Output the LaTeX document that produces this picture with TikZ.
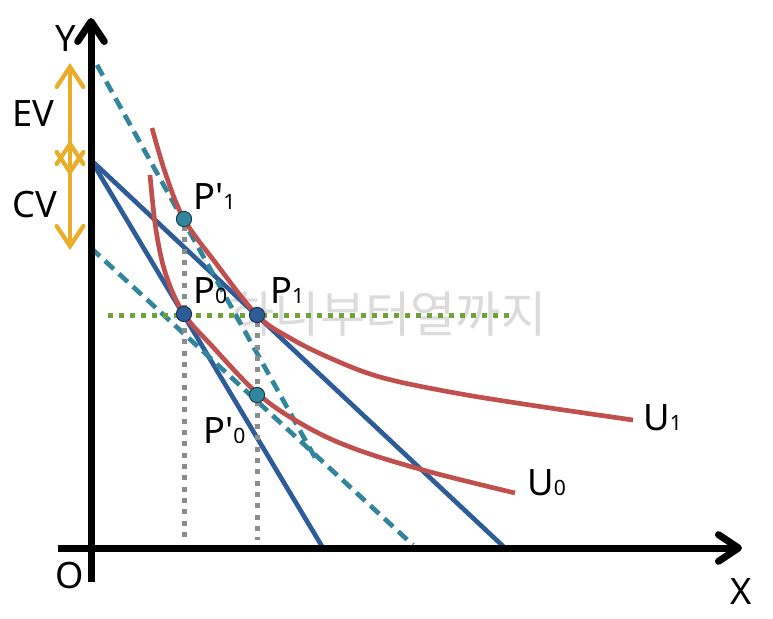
\documentclass[tikz,border=0pt]{standalone}
\usepackage{fontspec}
\setmainfont{Noto Sans}
\newfontfamily\kofont{Noto Sans CJK KR}
\usetikzlibrary{arrows.meta}
\definecolor{ured}{HTML}{C0504D}
\definecolor{bblue}{HTML}{2E5C99}
\definecolor{dteal}{HTML}{31859C}
\definecolor{hgreen}{HTML}{6FA33A}
\definecolor{vgray}{HTML}{8C8C8C}
\definecolor{aorange}{HTML}{E8AE2B}
\newcommand{\lowsub}[1]{{\fontsize{18}{18}\selectfont #1}}
\tikzset{
  axisline/.style={line width=2.1mm,-{Straight Barb[length=6mm,width=8mm,line cap=round,line join=round]}},
  budget/.style={bblue,line width=1.4mm},
  shifted/.style={dteal,line width=1.4mm,dash pattern=on 3.6mm off 2.1mm},
  indiff/.style={ured,line width=1.4mm},
  guide/.style={vgray,line width=1.5mm,dash pattern=on 1.5mm off 1.9mm},
  level/.style={hgreen,line width=1.5mm,dash pattern=on 1.5mm off 1.8mm},
  gap/.style={aorange,line width=1.3mm,{Straight Barb[length=6mm,width=8mm,line cap=round]}-{Straight Barb[length=6mm,width=8mm,line cap=round]}},
  bdot/.style={circle,fill=bblue,draw=bblue!55!black,line width=0.8pt,minimum size=4.6mm,inner sep=0},
  tdot/.style={circle,fill=dteal,draw=dteal!45!black,line width=0.8pt,minimum size=4.6mm,inner sep=0},
  lbl/.style={anchor=base west,inner sep=0,font=\fontsize{31}{36}\selectfont}
}
\begin{document}
\begin{tikzpicture}[x=0.03cm,y=-0.03cm]
\useasboundingbox (0,0) rectangle (773,619);
% watermark
\node[text=black!14,font=\kofont\fontsize{42}{42}\selectfont,inner sep=0] (wm) at (388,314) {하니부터열까지};
% intercepts
\coordinate (O) at (91,548);
\coordinate (Bi) at (91,160);
\coordinate (Bx0) at (323,548);
\coordinate (Bx1) at (505,548);
\coordinate (Di) at (97,65);
\coordinate (De) at (318,463);
\coordinate (Ei) at (91,248);
\coordinate (Ee) at (413,545);
% budget lines
\draw[budget] (Bi) -- (Bx0);
\draw[budget] (Bi) -- (Bx1);
\draw[shifted] (Di) -- (De);
\draw[shifted] (Ei) -- (Ee);
% indifference curves
\draw[indiff] plot[smooth,tension=0.6] coordinates {(152,128) (166,175) (184,219) (215,262) (257,315) (290,338) (330,358) (380,377) (450,392) (530,405) (633,420)};
\draw[indiff] plot[smooth,tension=0.6] coordinates {(150,175) (156,230) (166,275) (184,314) (212,346) (257,393) (300,423) (350,447) (423,470) (515,493)};
% guides
\draw[level] (108,315) -- (510,315);
\draw[guide] (184,226) -- (184,540);
\draw[guide] (257,322) -- (257,540);
% axes
\draw[axisline] (58,548) -- (742,548);
\draw[axisline] (91,582) -- (91,18);
% EV and CV
\draw[gap] (70,63) -- (70,176);
\draw[gap] (70,140) -- (70,250);
% points
\node[tdot] (P1p) at (184,219) {};
\node[bdot] (P0) at (184,314) {};
\node[bdot] (P1) at (257,315) {};
\node[tdot] (P0p) at (257,395) {};
% labels
\node[lbl] (lP1p) at (193,209) {P\textquotesingle\lowsub{1}};
\node[lbl] (lP0) at (193,303) {P\lowsub{0}};
\node[lbl] (lP1) at (270,303) {P\lowsub{1}};
\node[lbl] (lP0p) at (203,443) {P\textquotesingle\lowsub{0}};
\node[lbl] (lU1) at (643,430) {U\lowsub{1}};
\node[lbl] (lU0) at (527,495) {U\lowsub{0}};
\node[lbl] (lY) at (55,52) {Y};
\node[lbl] (lX) at (730,604) {X};
\node[lbl] (lO) at (55,588) {O};
\node[lbl] (lEV) at (12,127) {EV};
\node[lbl] (lCV) at (12,217) {CV};
\end{tikzpicture}
\end{document}
